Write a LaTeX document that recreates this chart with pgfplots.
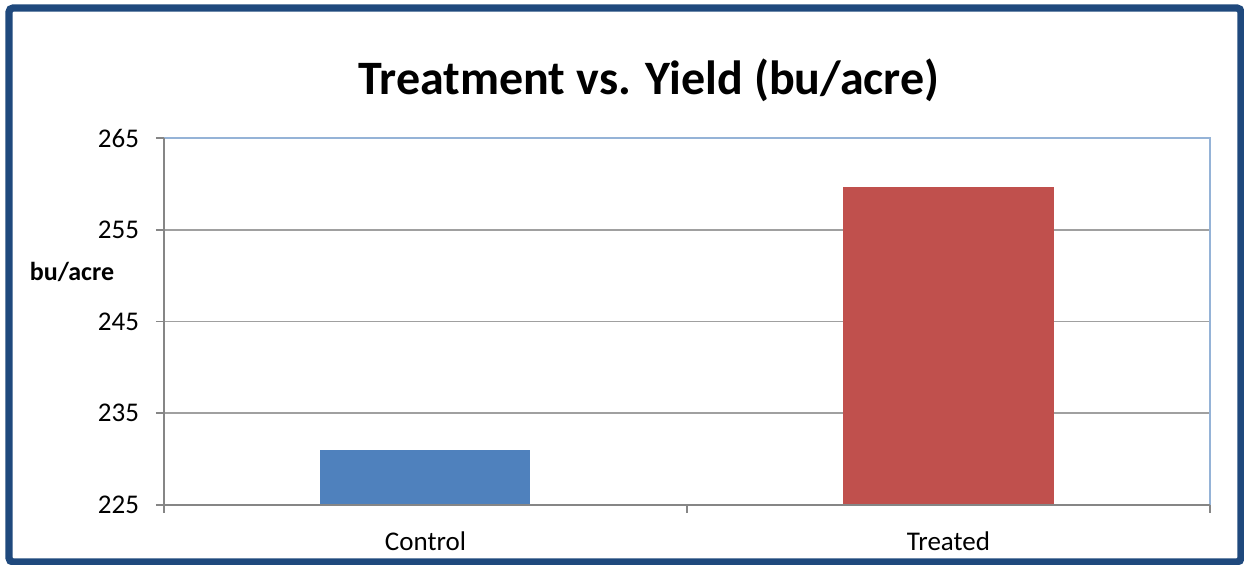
\documentclass[border=0pt]{standalone}
\usepackage{fontspec}
\setmainfont{Carlito}
\usepackage{pgfplots}
\pgfplotsset{compat=1.18}
\definecolor{barblue}{HTML}{4F81BD}
\definecolor{barred}{HTML}{C0504D}
\definecolor{frameblue}{HTML}{1F497D}
\definecolor{axgray}{HTML}{868686}
\definecolor{gridgray}{HTML}{A0A0A0}
\definecolor{boxblue}{HTML}{95B3D7}
\begin{document}
\begin{tikzpicture}
\useasboundingbox (-82pt,-30pt) rectangle (540pt,252.5pt);
\draw[frameblue, line width=3.6pt, rounded corners=2pt] (-77.5pt,-28.5pt) rectangle (538.5pt,248.5pt);
\begin{axis}[
  at={(0,0)}, anchor=south west,
  scale only axis,
  width=523pt, height=183.5pt,
  xmin=-0.5, xmax=1.5,
  ymin=225, ymax=265,
  ytick={225,235,245,255,265},
  xtick={-0.5,0.5,1.5}, xticklabels={},
  extra x ticks={0,1}, extra x tick labels={Control,Treated},
  extra x tick style={major tick length=0pt, xticklabel style={yshift=-10pt}},
  ytick pos=left, xtick pos=bottom,
  ymajorgrids, grid style={gridgray, line width=0.8pt},
  tick align=outside,
  major tick length=4pt,
  tick style={axgray, line width=0.8pt},
  axis line style={draw=none},
  ticklabel style={font=\fontsize{13.5pt}{15pt}\selectfont, text=black},
  /pgf/number format/assume math mode=true,
  yticklabel style={xshift=-5pt},
  bar width=105pt,
  clip=false,
]
\addplot[ybar, fill=barblue, draw=none] coordinates {(0,231.0)};
\addplot[ybar, fill=barred, draw=none] coordinates {(1,259.65)};
\draw[boxblue, line width=0.8pt] (axis cs:-0.5,265) -- (axis cs:1.5,265) -- (axis cs:1.5,225);
\draw[axgray, line width=0.8pt] (axis cs:-0.5,265) -- (axis cs:-0.5,225) -- (axis cs:1.5,225);
\end{axis}
\node[anchor=base, font=\fontsize{24pt}{28pt}\selectfont\bfseries] at (242.5pt,205pt) {Treatment vs. Yield (bu/acre)};
\node[font=\fontsize{13pt}{15pt}\selectfont\bfseries] at (-46pt,116.5pt) {bu/acre};
\end{tikzpicture}
\end{document}
